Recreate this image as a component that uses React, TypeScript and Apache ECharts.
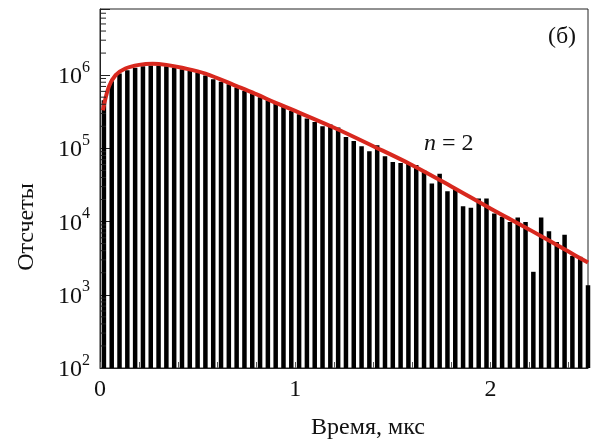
import React, { useEffect, useRef } from "react";
import * as echarts from "echarts";

// Bin centres (мкс)
const binTimes = [
  0.02, 0.06, 0.10, 0.14, 0.18, 0.22, 0.26, 0.30, 0.34, 0.38,
  0.42, 0.46, 0.50, 0.54, 0.58, 0.62, 0.66, 0.70, 0.74, 0.78,
  0.82, 0.86, 0.90, 0.94, 0.98, 1.02, 1.06, 1.10, 1.14, 1.18,
  1.22, 1.26, 1.30, 1.34, 1.38, 1.42, 1.46, 1.50, 1.54, 1.58,
  1.62, 1.66, 1.70, 1.74, 1.78, 1.82, 1.86, 1.90, 1.94, 1.98,
  2.02, 2.06, 2.10, 2.14, 2.18, 2.22, 2.26, 2.30, 2.34, 2.38,
  2.42, 2.46, 2.50,
];

// Counts per bin
const counts = [
  453000, 822000, 1050000, 1170000, 1260000, 1320000, 1350000, 1350000, 1320000, 1270000,
  1200000, 1140000, 1090000, 990000, 880000, 810000, 750000, 676000, 607000, 560000,
  500000, 453000, 408000, 367000, 324000, 292000, 255000, 229000, 200000, 211000,
  192000, 143000, 126000, 107000, 91000, 110000, 78000, 65000, 63000, 63000,
  59000, 50000, 33000, 45000, 26000, 28000, 16200, 15500, 20700, 20700,
  12900, 11600, 9900, 11400, 9900, 2060, 11400, 7400, 5250, 6600,
  3400, 3300, 1350,
];

// Fitted curve (n = 2)
const fitTimes = [0.015, 0.045, 0.08, 0.13, 0.2, 0.27, 0.34, 0.42, 0.54, 0.7, 0.8, 0.9, 1.0, 1.2, 1.4, 1.6, 1.8, 2.0, 2.2, 2.4, 2.5];
const fitValues = [331000, 692000, 1000000, 1230000, 1380000, 1430000, 1380000, 1260000, 1050000, 708000, 550000, 417000, 324000, 191000, 107000, 58900, 30200, 15100, 7760, 3890, 2750];

const xTickLabels = ["0", "1", "2"];
const yMin = 100;
const yMax = 8000000;

const FONT = "Liberation Serif, Times New Roman, serif";
const INK = "#111";

export default function App() {
  const ref = useRef<HTMLDivElement>(null);

  useEffect(() => {
    if (!ref.current) return;
    const chart = echarts.init(ref.current, undefined, { renderer: "svg" });

    const minorTicks: number[][] = [];
    for (let d = 2; d <= 6; d++) {
      for (let m = 2; m <= 9; m++) {
        const v = m * Math.pow(10, d);
        if (v < yMax) minorTicks.push([0, v]);
      }
    }

    chart.setOption({
      animation: false,
      grid: {
        left: 100,
        right: 9,
        top: 9,
        bottom: 73,
        show: true,
        borderColor: "#222",
        borderWidth: 1,
        backgroundColor: "transparent",
      },
      xAxis: {
        type: "value",
        min: 0,
        max: 2.5,
        interval: 0.2,
        axisLine: { show: true, lineStyle: { color: "#222", width: 1 } },
        axisTick: { show: true, inside: true, length: 6, lineStyle: { color: "#555" } },
        splitLine: { show: false },
        axisLabel: {
          interval: 0,
          margin: 8,
          color: INK,
          fontFamily: FONT,
          fontSize: 24,
          formatter: (v: number) => {
            const r = Math.round(v);
            return Math.abs(v - r) < 1e-6 && xTickLabels.includes(String(r)) ? String(r) : "";
          },
        },
      },
      yAxis: {
        type: "log",
        logBase: 10,
        min: yMin,
        max: yMax,
        axisLine: { show: true, lineStyle: { color: "#222", width: 1 } },
        axisTick: { show: true, inside: true, length: 10, lineStyle: { color: "#222" } },
        splitLine: { show: false },
        axisLabel: {
          margin: 10,
          color: INK,
          fontFamily: FONT,
          formatter: (v: number) => {
            const l = Math.log10(v);
            const e = Math.round(l);
            if (Math.abs(l - e) > 1e-6) return "";
            return `{b|10}{s|${e}}`;
          },
          rich: {
            b: { fontFamily: FONT, fontSize: 24, lineHeight: 34, color: INK, verticalAlign: "middle" },
            s: { fontFamily: FONT, fontSize: 16, lineHeight: 16, color: INK, verticalAlign: "top" },
          },
        },
      },
      series: [
        {
          type: "bar",
          data: binTimes.map((t, i) => [t, counts[i]]),
          barWidth: 4.5,
          itemStyle: { color: "#000" },
          clip: true,
          z: 2,
        },
        {
          type: "line",
          data: fitTimes.map((t, i) => [t, fitValues[i]]),
          smooth: 0.35,
          showSymbol: false,
          symbol: "none",
          lineStyle: { color: "#d8281e", width: 4 },
          clip: true,
          z: 4,
        },
        {
          type: "custom",
          data: minorTicks,
          z: 5,
          silent: true,
          renderItem: (_p: any, api: any) => {
            const pt = api.coord([api.value(0), api.value(1)]);
            return {
              type: "line",
              shape: { x1: pt[0], y1: pt[1], x2: pt[0] + 6, y2: pt[1] },
              style: { stroke: "#222", lineWidth: 1 },
            };
          },
        },
      ],
      graphic: [
        {
          type: "text",
          x: 25,
          y: 227,
          rotation: Math.PI / 2,
          style: {
            text: "Отсчеты",
            font: `24px ${FONT}`,
            fill: INK,
            align: "center",
            verticalAlign: "middle",
          },
        },
        {
          type: "text",
          x: 368,
          y: 426,
          style: {
            text: "Время, мкс",
            font: `24px ${FONT}`,
            fill: INK,
            align: "center",
            verticalAlign: "middle",
          },
        },
        {
          type: "text",
          x: 562,
          y: 35,
          style: {
            text: "(б)",
            font: `24px ${FONT}`,
            fill: INK,
            align: "center",
            verticalAlign: "middle",
          },
        },
        {
          type: "text",
          x: 424,
          y: 142,
          style: {
            text: "{i|n} = 2",
            font: `24px ${FONT}`,
            fill: INK,
            align: "left",
            verticalAlign: "middle",
            rich: {
              i: { font: `italic 24px ${FONT}`, fill: INK },
            },
          },
        },
      ],
    });

    return () => chart.dispose();
  }, []);

  return (
    <div
      ref={ref}
      style={{ position: "fixed", left: 0, top: 0, width: 597, height: 441 }}
    />
  );
}
